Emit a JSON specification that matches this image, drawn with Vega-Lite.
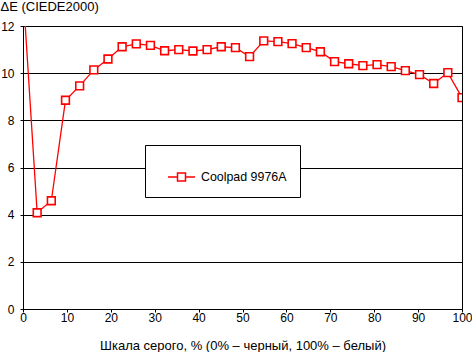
{
  "$schema": "https://vega.github.io/schema/vega-lite/v6.json",
  "width": 439,
  "height": 283,
  "autosize": {"type": "none"},
  "padding": {"left": 23, "top": 26, "right": 10, "bottom": 43},
  "background": "white",
  "config": {
    "view": {"stroke": "black", "strokeWidth": 1},
    "font": "Liberation Sans",
    "axis": {
      "labelFont": "Liberation Sans",
      "labelFontSize": 12,
      "labelColor": "black",
      "titleFont": "Liberation Sans",
      "titleFontSize": 13,
      "titleFontWeight": "normal",
      "titleColor": "black",
      "domainColor": "black",
      "tickColor": "black",
      "gridColor": "black",
      "gridOpacity": 1,
      "tickSize": 3
    },
    "legend": {
      "labelFont": "Liberation Sans",
      "labelFontSize": 12.4,
      "labelColor": "black"
    }
  },
  "data": {
    "values": [
      {"x": 0, "y": 13.5, "series": "Coolpad 9976A"},
      {"x": 3.226, "y": 4.08, "series": "Coolpad 9976A"},
      {"x": 6.452, "y": 4.59, "series": "Coolpad 9976A"},
      {"x": 9.677, "y": 8.85, "series": "Coolpad 9976A"},
      {"x": 12.903, "y": 9.46, "series": "Coolpad 9976A"},
      {"x": 16.129, "y": 10.14, "series": "Coolpad 9976A"},
      {"x": 19.355, "y": 10.6, "series": "Coolpad 9976A"},
      {"x": 22.581, "y": 11.12, "series": "Coolpad 9976A"},
      {"x": 25.806, "y": 11.24, "series": "Coolpad 9976A"},
      {"x": 29.032, "y": 11.18, "series": "Coolpad 9976A"},
      {"x": 32.258, "y": 10.95, "series": "Coolpad 9976A"},
      {"x": 35.484, "y": 11.0, "series": "Coolpad 9976A"},
      {"x": 38.71, "y": 10.94, "series": "Coolpad 9976A"},
      {"x": 41.935, "y": 11.0, "series": "Coolpad 9976A"},
      {"x": 45.161, "y": 11.12, "series": "Coolpad 9976A"},
      {"x": 48.387, "y": 11.08, "series": "Coolpad 9976A"},
      {"x": 51.613, "y": 10.7, "series": "Coolpad 9976A"},
      {"x": 54.839, "y": 11.37, "series": "Coolpad 9976A"},
      {"x": 58.065, "y": 11.34, "series": "Coolpad 9976A"},
      {"x": 61.29, "y": 11.25, "series": "Coolpad 9976A"},
      {"x": 64.516, "y": 11.08, "series": "Coolpad 9976A"},
      {"x": 67.742, "y": 10.91, "series": "Coolpad 9976A"},
      {"x": 70.968, "y": 10.49, "series": "Coolpad 9976A"},
      {"x": 74.194, "y": 10.4, "series": "Coolpad 9976A"},
      {"x": 77.419, "y": 10.32, "series": "Coolpad 9976A"},
      {"x": 80.645, "y": 10.36, "series": "Coolpad 9976A"},
      {"x": 83.871, "y": 10.28, "series": "Coolpad 9976A"},
      {"x": 87.097, "y": 10.11, "series": "Coolpad 9976A"},
      {"x": 90.323, "y": 9.94, "series": "Coolpad 9976A"},
      {"x": 93.548, "y": 9.56, "series": "Coolpad 9976A"},
      {"x": 96.774, "y": 10.02, "series": "Coolpad 9976A"},
      {"x": 100, "y": 8.96, "series": "Coolpad 9976A"}
    ]
  },
  "encoding": {
    "x": {
      "field": "x",
      "type": "quantitative",
      "scale": {"domain": [0, 100], "nice": false},
      "axis": {
        "values": [0, 10, 20, 30, 40, 50, 60, 70, 80, 90, 100],
        "grid": false,
        "labelPadding": 0,
        "labelFlush": false,
        "title": "Шкала серого, % (0% – черный, 100% – белый)",
        "titleBaseline": "alphabetic",
        "titleY": 40
      }
    },
    "y": {
      "field": "y",
      "type": "quantitative",
      "scale": {"domain": [0, 12], "nice": false},
      "axis": {
        "values": [0, 2, 4, 6, 8, 10, 12],
        "grid": true,
        "labelPadding": 6,
        "labelFlush": false,
        "title": "ΔE (CIEDE2000)",
        "titleAngle": 0,
        "titleAlign": "left",
        "titleBaseline": "alphabetic",
        "titleX": -23,
        "titleY": -15.5
      }
    },
    "color": {
      "field": "series",
      "type": "nominal",
      "scale": {"domain": ["Coolpad 9976A"], "range": ["#ff0000"]},
      "legend": {
        "title": null,
        "orient": "none",
        "legendX": 122,
        "legendY": 119,
        "fillColor": "white",
        "strokeColor": "black",
        "padding": 13,
        "labelOffset": 5,
        "symbolType": "M-1,0M-0.5,0H0.028M0.472,0H1M0.028,-0.222H0.472V0.222H0.028Z",
        "symbolSize": 1296,
        "symbolStrokeColor": "#ff0000",
        "symbolFillColor": "white",
        "symbolStrokeWidth": 1.5,
        "symbolOpacity": 1
      }
    }
  },
  "layer": [
    {"mark": {"type": "line", "strokeWidth": 1.3, "clip": true}},
    {"mark": {"type": "point", "shape": "square", "size": 60, "filled": false, "fill": "white", "fillOpacity": 1, "strokeWidth": 1.6, "opacity": 1, "clip": true}}
  ]
}
